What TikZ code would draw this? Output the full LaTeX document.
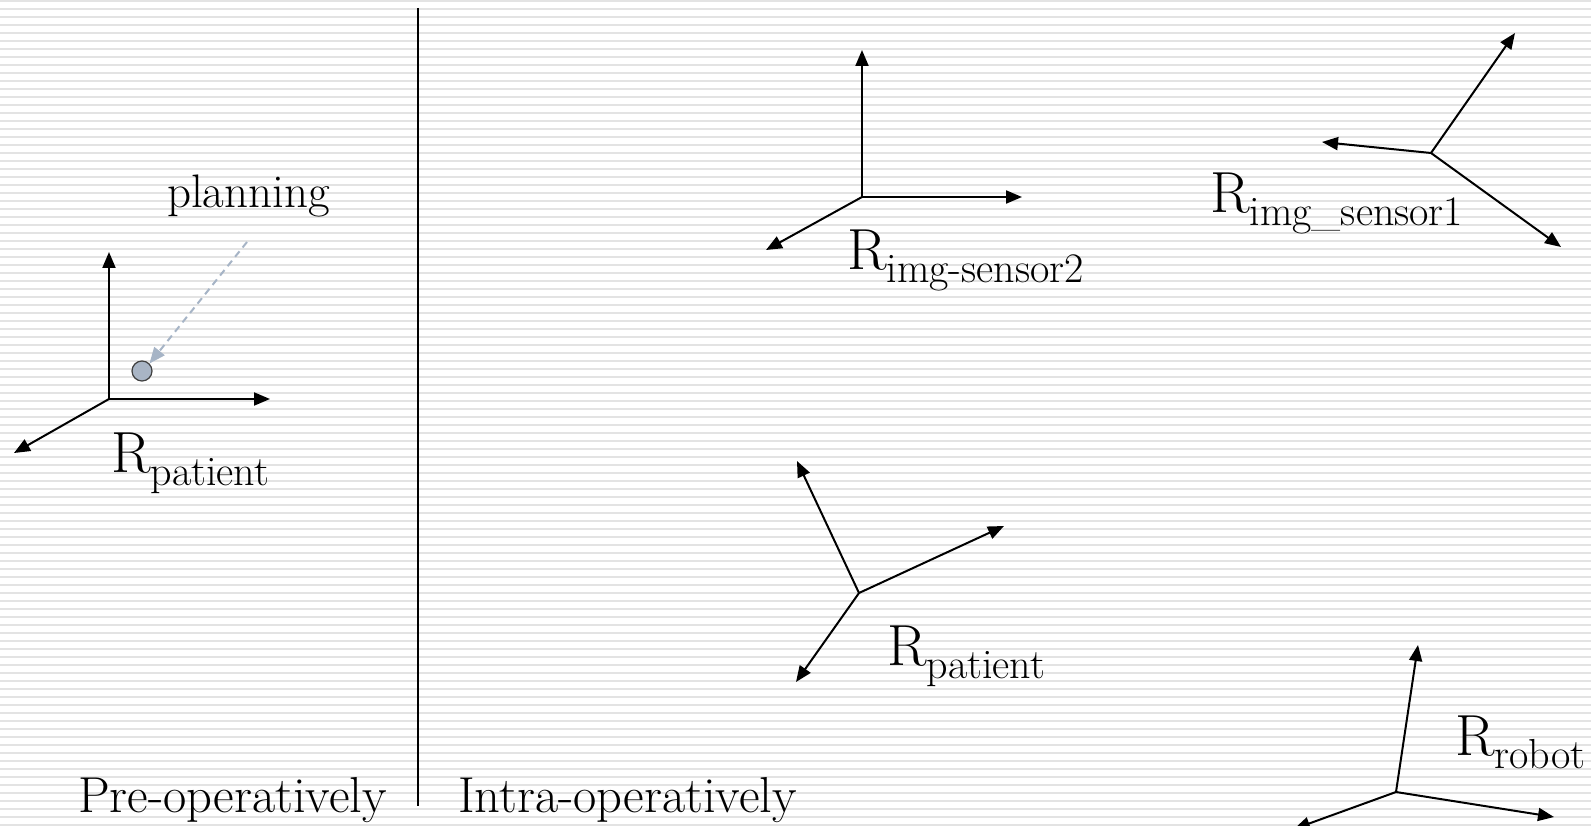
\documentclass[tikz,border=0pt]{standalone}
\usetikzlibrary{arrows.meta}
\definecolor{stripecol}{HTML}{E3E3E3}
\definecolor{plancol}{HTML}{A6B4C6}
\definecolor{dotcol}{HTML}{A9B5C5}
\newcommand{\framelabel}[1]{{\fontsize{58}{58}\selectfont R}\raisebox{-13pt}{\fontsize{42}{42}\selectfont #1}}
\begin{document}
\begin{tikzpicture}[x=1pt,y=-1pt,
  axis/.style={line width=2pt,-{Triangle[length=16pt,width=13pt]}},
  stripe/.style={stripecol,line width=2.2pt},
  lbl/.style={inner sep=0pt,anchor=base west},
  bigtext/.style={lbl,font=\fontsize{50.5}{50}\selectfont},
  framelbl/.style={lbl}]
\useasboundingbox (0,0) rectangle (1591,826);
\fill[white] (0,0) rectangle (1591,826);
\foreach \k in {0,...,103} \draw[stripe] (0,{1+8*\k}) -- (1591,{1+8*\k});

% divider
\coordinate (divtop) at (418,8);
\coordinate (divbot) at (418,806);
\draw[line width=1.5pt] (divtop) -- (divbot);

% section labels
\node[bigtext] (pre) at (78,812) {Pre-operatively};
\node[bigtext] (intra) at (458,812) {Intra-operatively};

% pre-operative patient frame
\coordinate (po) at (109,399);
\coordinate (pup) at (109,252);
\coordinate (pright) at (270,399);
\coordinate (pdl) at (14,453);
\draw[axis] (po) -- (pup);
\draw[axis] (po) -- (pright);
\draw[axis] (po) -- (pdl);
\node[framelbl] (prelbl) at (111,472) {\framelabel{patient}};
\node[lbl,font=\fontsize{47}{47}\selectfont] (plan) at (167,208) {planning};
\node[circle,draw=black!75,line width=1.2pt,fill=dotcol,minimum size=20pt,inner sep=0pt] (dot) at (142,371) {};
\coordinate (planstart) at (247,242);
\draw[plancol,line width=2pt,dash pattern=on 7pt off 5pt,-{Triangle[length=16pt,width=13pt]}] (planstart) -- (dot.north east);

% img-sensor2 frame
\coordinate (so) at (862,197);
\coordinate (sup) at (862,50);
\coordinate (sright) at (1022,197);
\coordinate (sdl) at (766,250);
\draw[axis] (so) -- (sup);
\draw[axis] (so) -- (sright);
\draw[axis] (so) -- (sdl);
\node[framelbl] (s2lbl) at (847,270) {\framelabel{img-sensor2}};

% img_sensor1 frame
\coordinate (to) at (1431,153);
\coordinate (tur) at (1515,33);
\coordinate (tleft) at (1322,142);
\coordinate (tdr) at (1561,247);
\draw[axis] (to) -- (tur);
\draw[axis] (to) -- (tleft);
\draw[axis] (to) -- (tdr);
\node[framelbl] (s1lbl) at (1210,213) {\framelabel{img\_sensor1}};

% intra-operative patient frame
\coordinate (io) at (859,593);
\coordinate (iul) at (797,461);
\coordinate (iright) at (1004,526);
\coordinate (idl) at (796,682);
\draw[axis] (io) -- (iul);
\draw[axis] (io) -- (iright);
\draw[axis] (io) -- (idl);
\node[framelbl] (iplbl) at (887,665) {\framelabel{patient}};

% robot frame
\coordinate (ro) at (1396,792);
\coordinate (rup) at (1418,645);
\coordinate (rright) at (1554,817);
\coordinate (rdl) at (1294,829);
\draw[axis] (ro) -- (rup);
\draw[axis] (ro) -- (rright);
\draw[axis] (ro) -- (rdl);
\node[framelbl] (rlbl) at (1455,755) {\framelabel{robot}};
\end{tikzpicture}
\end{document}
